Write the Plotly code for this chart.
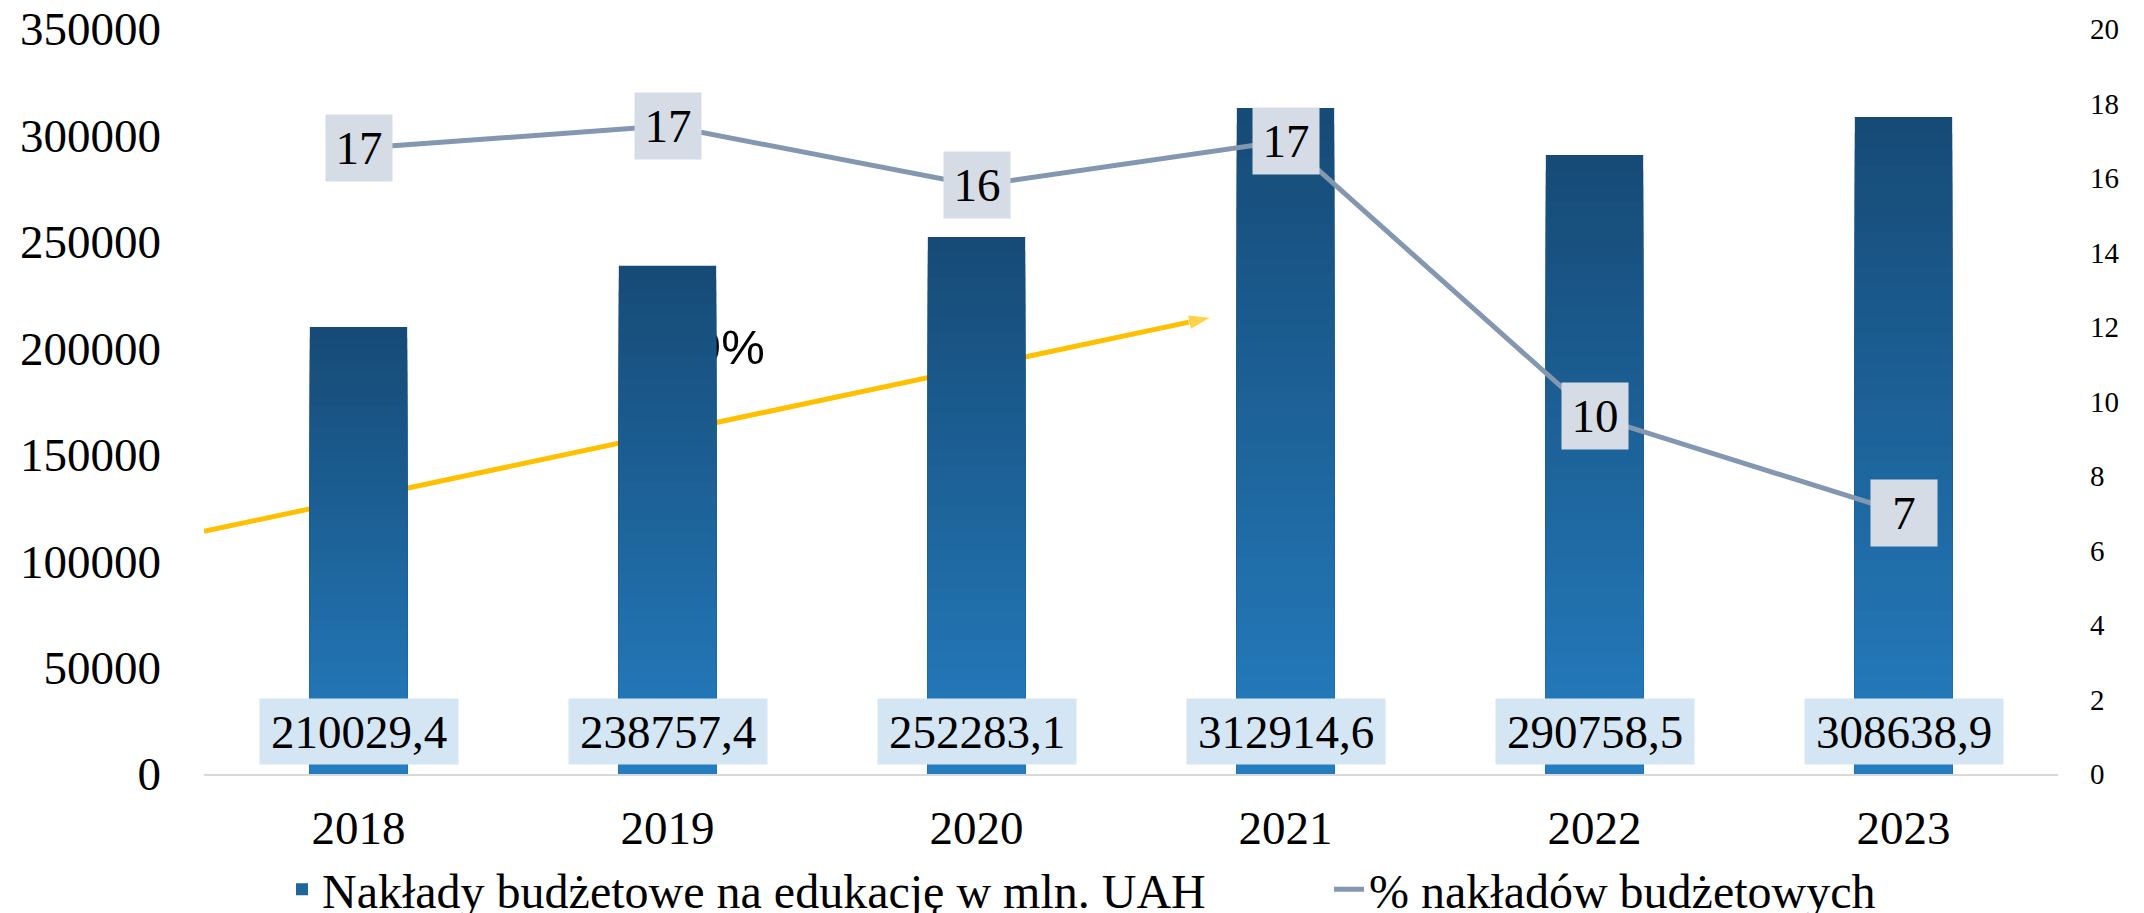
import plotly.graph_objects as go

years = ["2018", "2019", "2020", "2021", "2022", "2023"]
spending = [210029.4, 238757.4, 252283.1, 312914.6, 290758.5, 308638.9]
spending_labels = ["210029,4", "238757,4", "252283,1", "312914,6", "290758,5", "308638,9"]
share_pct = [16.8, 17.4, 15.8, 17.0, 9.6, 7.0]

# decorative growth arrow (category index, value) and its label
arrow_x = [-0.5, 2.76]
arrow_y = [114000, 214500]
growth_label = "49%"
growth_pos = (1.315, 198500)

bar_name = "Nakłady budżetowe na edukację w mln. UAH"
line_name = "% nakładów budżetowych"

SERIF = "Liberation Serif"
TOP = (22, 74, 118)
BOTTOM = (37, 126, 193)

W, H = 2136, 905  # page adds an 8px body margin

xs = list(range(len(years)))
fig = go.Figure()

# growth arrow (main subplot, drawn below bars)
fig.add_trace(go.Scatter(
    x=arrow_x, y=arrow_y, mode="lines+markers",
    line=dict(color="#ffc000", width=5),
    marker=dict(symbol="arrow", size=[0, 24], angleref="previous", color="#ffc000"),
    showlegend=False, hoverinfo="skip", xaxis="x", yaxis="y"))
fig.add_trace(go.Scatter(
    x=[growth_pos[0]], y=[growth_pos[1]], mode="text", text=[growth_label],
    textposition="middle left",
    textfont=dict(family="Liberation Sans", size=49, color="black"),
    showlegend=False, hoverinfo="skip", xaxis="x", yaxis="y"))

# gradient bars (overlay subplot)
N = 40
for k in range(N):
    f = (N - k) / N
    fm = (N - k - 0.5) / N
    c = tuple(round(BOTTOM[i] + (TOP[i] - BOTTOM[i]) * fm) for i in range(3))
    fig.add_trace(go.Bar(
        x=xs, y=[v * f for v in spending], width=0.315,
        marker=dict(color="rgb(%d,%d,%d)" % c, line=dict(width=0)),
        name=bar_name, showlegend=(k == N // 2), legend="legend",
        hoverinfo="skip", xaxis="x", yaxis="y2"))

fig.add_trace(go.Scatter(
    x=xs, y=share_pct, mode="lines", name=line_name,
    line=dict(color="#8497b0", width=5), legend="legend2",
    xaxis="x", yaxis="y3"))

ann = []
for i, (v, t) in enumerate(zip(spending, spending_labels)):
    ann.append(dict(x=i, y=0, xref="x", yref="y2", text=t, showarrow=False,
                    yanchor="middle", yshift=42.5, width=196, height=63,
                    bgcolor="#d4e6f4", font=dict(family=SERIF, size=47, color="black")))
for i, v in enumerate(share_pct):
    ann.append(dict(x=i, y=v, xref="x", yref="y3", text=f"{v:.0f}", showarrow=False,
                    yanchor="middle", width=64, height=64,
                    bgcolor="#d6dce5", font=dict(family=SERIF, size=47, color="black")))

legend_common = dict(orientation="h", xref="container", yref="container",
                     xanchor="left", y=0.026, yanchor="middle",
                     font=dict(family=SERIF, size=48), bgcolor="rgba(0,0,0,0)")

fig.update_layout(
    width=W, height=H,
    margin=dict(l=196, r=86, t=21, b=139, autoexpand=False),
    paper_bgcolor="white", plot_bgcolor="white",
    barmode="overlay",
    font=dict(family=SERIF, color="black"),
    annotations=ann,
    xaxis=dict(range=[-0.5, 5.5], tickvals=xs, ticktext=years, showgrid=False,
               zeroline=False, showline=True, linecolor="#d9d9d9", linewidth=2,
               tickfont=dict(family=SERIF, size=47), ticklabelstandoff=12),
    yaxis=dict(range=[0, 350000], dtick=50000, tickformat="d", showgrid=False,
               zeroline=False, tickfont=dict(family=SERIF, size=47),
               ticklabelstandoff=42, ticklabeloverflow="allow"),
    yaxis2=dict(range=[0, 350000], overlaying="y", visible=False),
    yaxis3=dict(range=[0, 20], dtick=2, overlaying="y", side="right", showgrid=False,
                zeroline=False, tickfont=dict(family=SERIF, size=29),
                ticklabelstandoff=31, ticklabeloverflow="allow"),
    legend=dict(x=274 / W, **legend_common),
    legend2=dict(x=1321 / W, **legend_common),
    showlegend=True,
)

fig.write_html("out.html")
